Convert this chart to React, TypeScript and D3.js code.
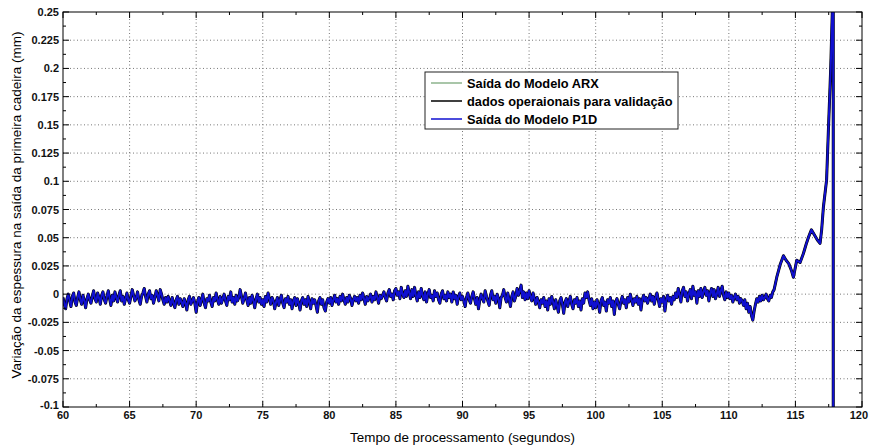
import React from "react";
import * as d3 from "d3";

// ---- data ----
const xTicks = [60, 65, 70, 75, 80, 85, 90, 95, 100, 105, 110, 115, 120];
const yTicks = [-0.1, -0.075, -0.05, -0.025, 0, 0.025, 0.05, 0.075, 0.1, 0.125, 0.15, 0.175, 0.2, 0.225, 0.25];
const yTickLabels = ["-0.1", "-0.075", "-0.05", "-0.025", "0", "0.025", "0.05", "0.075", "0.1", "0.125", "0.15", "0.175", "0.2", "0.225", "0.25"];
const legendLabels = ["Saída do Modelo ARX", "dados operaionais para validação", "Saída do Modelo P1D"];

// noise segment sampled every 0.1 s starting at 60 s (one row per second)
const noiseStart = 60;
const noiseStep = 0.1;
const noiseValues = [
  -0.003, -0.009, -0.013, -0.004, 0.000, -0.006, -0.011, -0.002, 0.001, -0.007,
  -0.010, -0.003, 0.002, -0.005, -0.009, -0.001, -0.006, -0.012, -0.004, 0.000,
  -0.005, -0.008, -0.002, 0.003, -0.004, -0.007, 0.001, -0.003, -0.009, -0.001,
  0.002, -0.005, -0.008, -0.002, 0.003, -0.004, -0.010, -0.001, -0.006, 0.002,
  -0.003, -0.007, -0.001, 0.003, -0.006, -0.002, -0.009, -0.004, 0.001, -0.005,
  -0.008, -0.002, 0.004, -0.001, -0.006, -0.003, 0.002, -0.005, -0.009, -0.002,
  0.001, 0.005, -0.002, -0.007, 0.000, 0.003, -0.004, -0.001, -0.008, -0.003,
  0.003, -0.001, -0.006, 0.004, 0.000, -0.005, -0.009, -0.003, -0.007, -0.002,
  -0.006, -0.010, -0.003, -0.008, -0.012, -0.005, -0.002, -0.009, -0.004, -0.007,
  -0.011, -0.004, -0.008, -0.014, -0.005, -0.002, -0.009, -0.006, -0.003, -0.008,
  -0.016, -0.007, -0.003, -0.010, -0.005, 0.000, -0.008, -0.012, -0.004, -0.006,
  -0.001, -0.007, -0.011, -0.003, -0.006, 0.001, -0.005, -0.009, -0.002, -0.008,
  -0.004, 0.000, -0.006, -0.010, -0.002, -0.005, 0.002, -0.007, -0.003, -0.009,
  -0.001, -0.006, -0.003, 0.004, -0.002, -0.008, -0.004, 0.001, -0.005, -0.010,
  -0.003, -0.008, -0.001, -0.006, -0.012, -0.004, 0.000, -0.007, -0.003, -0.009,
  -0.005, -0.011, -0.002, -0.007, 0.001, -0.004, -0.009, -0.003, -0.006, -0.013,
  -0.007, -0.003, -0.010, -0.005, -0.001, -0.008, -0.012, -0.004, -0.007, -0.002,
  -0.009, -0.005, -0.013, -0.006, -0.003, -0.010, -0.004, -0.008, -0.014, -0.006,
  -0.003, -0.009, -0.005, -0.011, -0.002, -0.007, -0.013, -0.004, -0.008, -0.005,
  -0.010, -0.016, -0.006, -0.003, -0.009, -0.005, -0.012, -0.015, -0.007, -0.004,
  -0.008, -0.003, -0.010, -0.005, -0.001, -0.007, -0.004, -0.009, -0.002, -0.006,
  0.000, -0.005, -0.009, -0.003, -0.007, -0.001, -0.004, -0.010, -0.005, -0.002,
  -0.006, -0.003, -0.008, -0.001, -0.005, 0.001, -0.004, -0.009, -0.002, -0.006,
  -0.003, 0.000, -0.007, -0.002, -0.005, 0.002, -0.003, -0.008, -0.001, -0.004,
  -0.001, 0.002, -0.003, -0.006, 0.001, 0.004, -0.002, 0.000, -0.005, 0.003,
  0.005, -0.001, 0.002, -0.004, 0.006, 0.000, -0.003, 0.003, -0.002, 0.007,
  0.001, -0.004, 0.004, -0.002, 0.006, -0.001, -0.006, 0.002, -0.003, 0.005,
  -0.001, -0.005, 0.002, -0.007, 0.000, 0.004, -0.003, -0.001, -0.006, 0.003,
  -0.002, 0.001, -0.005, -0.008, 0.000, 0.003, -0.004, -0.001, -0.006, 0.002,
  -0.003, 0.000, -0.007, 0.002, -0.004, -0.001, -0.009, -0.002, 0.001, -0.005,
  -0.002, -0.006, -0.011, -0.003, 0.001, -0.005, -0.008, -0.002, 0.002, -0.004,
  -0.009, -0.003, -0.013, -0.005, 0.000, -0.004, -0.007, 0.003, -0.002, -0.006,
  -0.010, -0.001, 0.003, -0.005, -0.002, -0.008, 0.000, -0.004, -0.012, -0.003,
  -0.001, 0.004, -0.003, -0.007, 0.001, -0.005, -0.011, -0.002, 0.002, -0.006,
  -0.002, 0.005, -0.001, 0.003, 0.008, -0.003, 0.002, -0.005, 0.001, -0.004,
  0.003, -0.002, -0.006, 0.001, -0.004, -0.009, -0.003, -0.007, -0.012, -0.005,
  -0.008, -0.003, -0.011, -0.006, -0.014, -0.004, -0.009, -0.002, -0.007, -0.013,
  -0.005, -0.010, -0.016, -0.006, -0.003, -0.009, -0.017, -0.007, -0.004, -0.011,
  -0.006, -0.002, -0.009, -0.013, -0.005, -0.008, -0.003, -0.011, -0.006, -0.014,
  -0.004, -0.008, 0.001, -0.003, 0.002, -0.005, -0.010, -0.004, -0.013, -0.007,
  -0.012, -0.005, -0.009, -0.016, -0.006, -0.003, -0.010, -0.007, -0.015, -0.005,
  -0.008, -0.003, -0.011, -0.006, -0.018, -0.007, -0.004, -0.009, -0.013, -0.006,
  -0.002, -0.008, -0.005, -0.012, -0.003, -0.007, 0.000, -0.005, -0.010, -0.004,
  -0.007, -0.002, -0.009, -0.004, -0.014, -0.005, -0.001, -0.006, -0.003, -0.008,
  -0.004, 0.000, -0.006, -0.002, -0.009, -0.003, 0.001, -0.005, -0.011, -0.004,
  -0.007, -0.002, -0.015, -0.005, -0.001, -0.006, -0.003, -0.009, -0.002, -0.005,
  0.001, -0.003, 0.005, -0.001, -0.007, 0.003, 0.006, -0.002, 0.002, -0.006,
  0.000, 0.004, -0.004, 0.007, -0.001, 0.002, -0.008, 0.003, -0.002, 0.005,
  -0.003, 0.002, 0.006, -0.001, 0.003, -0.006, 0.001, 0.005, -0.002, 0.004,
  -0.004, 0.000, 0.006, -0.002, 0.003, 0.007, -0.001, -0.005, 0.002, -0.003,
  0.001, -0.004, -0.001, -0.007, -0.003, 0.000, -0.005, -0.002, -0.008, -0.004,
  -0.006, -0.010, -0.005, -0.013, -0.008, -0.016, -0.011, -0.019, -0.023, -0.015,
  -0.009, -0.004, -0.007, -0.002, -0.006, -0.001, -0.005, -0.003, 0.000, -0.004,
  -0.006, -0.001, -0.003, 0.002, 0.004,
];

// final rise and divergence
const riseTimes = [113.6, 113.85, 114.1, 114.3, 114.5, 114.7, 114.85, 115.1, 115.35, 115.6, 115.8, 116.0, 116.2, 116.45, 116.65, 116.85, 116.97, 117.1, 117.34, 117.47, 117.65, 117.77, 117.82, 117.84, 117.84];
const riseValues = [0.015, 0.026, 0.034, 0.030, 0.027, 0.021, 0.015, 0.030, 0.028, 0.036, 0.044, 0.051, 0.057, 0.052, 0.048, 0.045, 0.057, 0.077, 0.101, 0.143, 0.2, 0.25, 0.32, 0.35, -0.2];

const W = 869;
const H = 447;
const L = 63, R = 862, T = 12, B = 407;

export default function App() {
  const x = d3.scaleLinear().domain([60, 120]).range([L, R]);
  const y = d3.scaleLinear().domain([-0.1, 0.25]).range([B, T]);

  const pts: [number, number][] = noiseValues.map((v, i) => [noiseStart + i * noiseStep, v]);
  riseTimes.forEach((t, i) => pts.push([t, riseValues[i]]));

  const line = d3
    .line<[number, number]>()
    .x((d) => x(d[0]))
    .y((d) => y(d[1]));
  const path = line(pts) || "";

  const xMinor = d3.range(60, 120.01, 2.5);
  const yMinor = d3.range(-0.1, 0.2501, 0.0125);

  const tickFont = "Arial, 'Liberation Sans', sans-serif";
  const legendColors = ["#8db38d", "#000000", "#1010d0"];
  const lgX = 425, lgY = 72, lgW = 253, lgH = 57;

  return (
    <svg width={W} height={H} style={{ position: "absolute", left: 0, top: 0, background: "#fff" }} fontFamily={tickFont}>
      <rect x={0} y={0} width={W} height={H} fill="#fff" />
      <defs>
        <clipPath id="plotclip">
          <rect x={L} y={T} width={R - L} height={B - T} />
        </clipPath>
      </defs>
      {/* grid */}
      {xTicks.slice(1, -1).map((t) => (
        <line key={"gx" + t} x1={x(t)} x2={x(t)} y1={T} y2={B} stroke="#777" strokeWidth={1} strokeDasharray="1,2.5" />
      ))}
      {yTicks.slice(1, -1).map((t) => (
        <line key={"gy" + t} x1={L} x2={R} y1={y(t)} y2={y(t)} stroke="#777" strokeWidth={1} strokeDasharray="1,2.5" />
      ))}
      {/* series */}
      <g clipPath="url(#plotclip)" fill="none" strokeLinejoin="round">
        <path d={path} stroke={legendColors[0]} strokeWidth={2} />
        <path d={path} stroke="#000" strokeWidth={3} />
        <path d={path} stroke={legendColors[2]} strokeWidth={2} />
      </g>
      {/* ticks */}
      <g stroke="#000" strokeWidth={1}>
        {xMinor.map((t, i) => {
          const len = i % 2 === 0 ? 6 : 3;
          return (
            <g key={"xt" + i}>
              <line x1={x(t)} x2={x(t)} y1={B} y2={B - len} />
              <line x1={x(t)} x2={x(t)} y1={T} y2={T + len} />
            </g>
          );
        })}
        {yMinor.map((t, i) => {
          const len = i % 2 === 0 ? 6 : 3;
          return (
            <g key={"yt" + i}>
              <line x1={L} x2={L + len} y1={y(t)} y2={y(t)} />
              <line x1={R} x2={R - len} y1={y(t)} y2={y(t)} />
            </g>
          );
        })}
      </g>
      <rect x={L} y={T} width={R - L} height={B - T} fill="none" stroke="#000" strokeWidth={1} />
      {/* tick labels */}
      {yTicks.map((t, i) => (
        <text key={"yl" + t} x={L - 4} y={y(t) + (t === -0.1 ? -2 : 0)} textAnchor="end" dominantBaseline="central" fontSize={11} fontWeight="bold" fill="#111">
          {yTickLabels[i]}
        </text>
      ))}
      {xTicks.map((t) => (
        <text key={"xl" + t} x={t === 120 ? W - 1 : x(t)} y={415} textAnchor={t === 120 ? "end" : "middle"} dominantBaseline="central" fontSize={11} fontWeight="bold" fill="#111">
          {t}
        </text>
      ))}
      {/* axis labels */}
      <text x={(L + R) / 2} y={437} textAnchor="middle" dominantBaseline="central" fontSize={13.4} fill="#000">
        Tempo de processamento (segundos)
      </text>
      <text transform={`translate(16,${(28 + 382) / 2}) rotate(-90)`} textAnchor="middle" dominantBaseline="central" fontSize={13.5} fill="#000">
        Variação da espessura na saída da primeira cadeira (mm)
      </text>
      {/* legend */}
      <rect x={lgX} y={lgY} width={lgW} height={lgH} fill="#fff" stroke="#222" strokeWidth={1} />
      {legendLabels.map((lab, i) => {
        const ly = 83 + i * 18;
        return (
          <g key={"lg" + i}>
            <line x1={431} x2={462} y1={ly} y2={ly} stroke={legendColors[i]} strokeWidth={1.5} />
            <text x={467} y={ly} dominantBaseline="central" fontSize={12.8} fontWeight="bold" fill="#000">
              {lab}
            </text>
          </g>
        );
      })}
    </svg>
  );
}
